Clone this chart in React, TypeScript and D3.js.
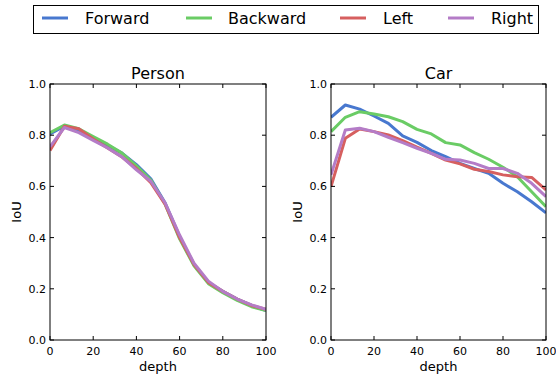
import * as d3 from "d3";

const depth = [0, 6.67, 13.33, 20, 26.67, 33.33, 40, 46.67, 53.33, 60, 66.67, 73.33, 80, 86.67, 93.33, 100];
const seriesNames = ["Forward", "Backward", "Left", "Right"];
const colors = ["#4878CF", "#6ACC65", "#D65F5F", "#B47CC7"];

const personForward = [0.805, 0.835, 0.82, 0.79, 0.76, 0.73, 0.685, 0.63, 0.535, 0.405, 0.295, 0.225, 0.19, 0.16, 0.135, 0.115];
const personBackward = [0.81, 0.84, 0.825, 0.795, 0.765, 0.73, 0.68, 0.625, 0.53, 0.395, 0.29, 0.22, 0.185, 0.155, 0.13, 0.115];
const personLeft = [0.74, 0.835, 0.825, 0.785, 0.75, 0.715, 0.67, 0.615, 0.53, 0.4, 0.295, 0.225, 0.19, 0.16, 0.135, 0.12];
const personRight = [0.755, 0.83, 0.81, 0.78, 0.75, 0.715, 0.665, 0.62, 0.535, 0.41, 0.3, 0.23, 0.19, 0.16, 0.137, 0.12];

const carForward = [0.87, 0.918, 0.902, 0.875, 0.846, 0.797, 0.772, 0.74, 0.716, 0.69, 0.67, 0.651, 0.612, 0.579, 0.54, 0.497];
const carBackward = [0.814, 0.87, 0.892, 0.883, 0.872, 0.853, 0.823, 0.805, 0.771, 0.762, 0.732, 0.706, 0.675, 0.638, 0.579, 0.521];
const carLeft = [0.599, 0.788, 0.824, 0.814, 0.801, 0.779, 0.753, 0.729, 0.703, 0.688, 0.667, 0.658, 0.645, 0.638, 0.635, 0.586];
const carRight = [0.645, 0.82, 0.827, 0.814, 0.792, 0.771, 0.749, 0.729, 0.706, 0.703, 0.69, 0.67, 0.67, 0.651, 0.612, 0.56];

const xTicks = [0, 20, 40, 60, 80, 100];
const yTicks = [0, 0.2, 0.4, 0.6, 0.8, 1.0];

const font = "DejaVu Sans, sans-serif";

function Panel({ left, right, title, series }: { left: number; right: number; title: string; series: number[][] }) {
  const top = 84;
  const bottom = 340;
  const x = d3.scaleLinear().domain([0, 100]).range([left, right]);
  const y = d3.scaleLinear().domain([0, 1]).range([bottom, top]);
  const line = d3
    .line<number>()
    .x((_, i) => x(depth[i]))
    .y((v) => y(v));
  const tl = 4;
  return (
    <g>
      <defs>
        <clipPath id={`clip-${title}`}>
          <rect x={left} y={top} width={right - left} height={bottom - top} />
        </clipPath>
      </defs>
      <g clipPath={`url(#clip-${title})`}>
        {series.map((s, i) => (
          <path key={i} d={line(s) ?? ""} fill="none" stroke={colors[i]} strokeWidth={3} strokeLinejoin="round" />
        ))}
      </g>
      <rect x={left} y={top} width={right - left} height={bottom - top} fill="none" stroke="#000" strokeWidth={1} />
      {xTicks.map((t) => (
        <g key={`x${t}`}>
          <line x1={x(t)} x2={x(t)} y1={bottom} y2={bottom - tl} stroke="#000" />
          <line x1={x(t)} x2={x(t)} y1={top} y2={top + tl} stroke="#000" />
          <text x={x(t)} y={bottom + 15} textAnchor="middle" fontSize={11} fontFamily={font}>
            {t}
          </text>
        </g>
      ))}
      {yTicks.map((t) => (
        <g key={`y${t}`}>
          <line x1={left} x2={left + tl} y1={y(t)} y2={y(t)} stroke="#000" />
          <line x1={right} x2={right - tl} y1={y(t)} y2={y(t)} stroke="#000" />
          <text x={left - 4} y={y(t) + 4} textAnchor="end" fontSize={11} fontFamily={font}>
            {t.toFixed(1)}
          </text>
        </g>
      ))}
      <text x={(left + right) / 2} y={top - 5} textAnchor="middle" fontSize={16} fontFamily={font}>
        {title}
      </text>
      <text x={(left + right) / 2} y={371} textAnchor="middle" fontSize={13} fontFamily={font}>
        depth
      </text>
      <text
        transform={`translate(${left - 29},${(top + bottom) / 2}) rotate(-90)`}
        textAnchor="middle"
        fontSize={13}
        fontFamily={font}
      >
        IoU
      </text>
    </g>
  );
}

export default function App() {
  const legendLineX = [42, 186, 340, 448];
  const legendTextX = [85, 228, 383, 491];
  return (
    <svg width={556} height={375} style={{ position: "absolute", left: 0, top: 0, background: "#fff" }}>
      <rect x={0} y={0} width={556} height={375} fill="#fff" />
      <Panel left={50} right={266} title="Person" series={[personForward, personBackward, personLeft, personRight]} />
      <Panel left={331} right={546} title="Car" series={[carForward, carBackward, carLeft, carRight]} />
      <rect x={33.5} y={5.5} width={505} height={28} fill="#fff" stroke="#000" strokeWidth={1} />
      {seriesNames.map((n, i) => (
        <g key={n}>
          <line x1={legendLineX[i]} x2={legendLineX[i] + 26} y1={18} y2={18} stroke={colors[i]} strokeWidth={3} />
          <text x={legendTextX[i]} y={24} fontSize={16} fontFamily={font}>
            {n}
          </text>
        </g>
      ))}
    </svg>
  );
}
